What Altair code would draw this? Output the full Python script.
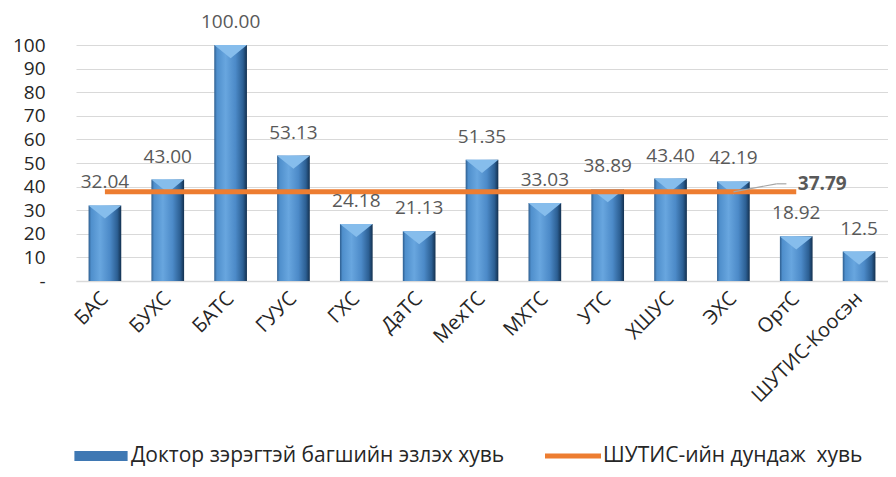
import altair as alt
import pandas as pd

FONT = "Open Sans"

categories = ["БАС", "БУХС", "БАТС", "ГУУС", "ГХС", "ДаТС", "МехТС", "МХТС",
              "УТС", "ХШУС", "ЭХС", "ОртС", "ШУТИС-Коосэн"]
values = [32.04, 43.00, 100.00, 53.13, 24.18, 21.13, 51.35, 33.03,
          38.89, 43.40, 42.19, 18.92, 12.5]
value_labels = ["32.04", "43.00", "100.00", "53.13", "24.18", "21.13", "51.35",
                "33.03", "38.89", "43.40", "42.19", "18.92", "12.5"]
average = 37.79
average_label = "37.79"
line_categories = categories[:12]
series_names = ["Доктор зэрэгтэй багшийн эзлэх хувь", "ШУТИС-ийн дундаж\u00a0 хувь"]
series_colors = ["#3f78b3", "#ED7D31"]
y_ticks = [0, 10, 20, 30, 40, 50, 60, 70, 80, 90, 100]

bars_df = pd.DataFrame({"cat": categories, "val": values, "lab": value_labels})
line_df = pd.DataFrame({"cat": line_categories,
                        "val": [average] * len(line_categories)})
avg_df = pd.DataFrame({"cat": [categories[11]], "val": [average], "lab": [average_label]})
leader_df = pd.DataFrame({"cat": [categories[10]], "val": [average]})
legend_df = pd.DataFrame({"series": series_names})

x_enc = alt.X("cat:N",
              scale=alt.Scale(domain=categories, paddingInner=0.48, paddingOuter=0.2),
              axis=alt.Axis(title=None, labelAngle=-45, labelAlign="right",
                            labelBaseline="middle", labelFont=FONT, labelFontSize=20,
                            labelColor="#262626", labelPadding=14, ticks=False,
                            domainColor="#d9d9d9", domainWidth=1.5,
                            labelOverlap=False, labelLimit=300))
y_enc = alt.Y("val:Q", scale=alt.Scale(domain=[0, 100], nice=False),
              axis=alt.Axis(title=None, values=y_ticks,
                            labelExpr="datum.value === 0 ? '-' : datum.label",
                            gridColor="#d9d9d9", gridWidth=1, domain=False, ticks=False,
                            labelPadding=31, labelFont=FONT, labelFontSize=19,
                            labelColor="#262626"))

bar_fill = alt.Gradient(
    gradient="linear", x1=0, x2=1, y1=0, y2=0,
    stops=[alt.GradientStop(color="#2d5d8e", offset=0),
           alt.GradientStop(color="#4f8fcc", offset=0.08),
           alt.GradientStop(color="#68a6df", offset=0.35),
           alt.GradientStop(color="#4c8ac8", offset=0.65),
           alt.GradientStop(color="#2c5f93", offset=0.88),
           alt.GradientStop(color="#13304f", offset=1)])

series_color = alt.Scale(domain=series_names, range=series_colors)
series_shape = alt.Scale(domain=series_names,
                         range=["M-0.95,-0.18H0.95V0.18H-0.95Z", "M-1,-0.09H1V0.09H-1Z"])
legend_def = alt.Legend(orient="none", legendX=-3, legendY=383, direction="horizontal",
                        title=None, padding=0, labelFont=FONT, labelFontSize=21,
                        labelColor="#262626", symbolSize=3136, labelOffset=2,
                        labelLimit=600, columnPadding=40, symbolOpacity=1,
                        symbolStrokeWidth=0)

bars = alt.Chart(bars_df).mark_bar(color=bar_fill).encode(x=x_enc, y=y_enc)

bevel = alt.Chart(bars_df).mark_point(
    shape="M-1,-1L1,-1L0,-0.2Z", size=1070, filled=True, color="#86bdec",
    opacity=1, strokeWidth=0, yOffset=16.4
).encode(x=x_enc, y=y_enc)

value_text = alt.Chart(bars_df).mark_text(
    font=FONT, fontSize=19, color="#595959", baseline="middle", dy=-23
).encode(x=x_enc, y=y_enc, text="lab:N")

line = alt.Chart(line_df).mark_line(strokeWidth=5, strokeCap="butt",
                                    color=series_colors[1]).encode(x=x_enc, y=y_enc)

legend_pts = alt.Chart(legend_df).mark_point(filled=True, opacity=0, strokeWidth=0).encode(
    x=alt.value(0), y=alt.value(0),
    color=alt.Color("series:N", scale=series_color, legend=legend_def),
    shape=alt.Shape("series:N", scale=series_shape, legend=legend_def)
)

leader1 = alt.Chart(leader_df).mark_rule(color="#a6a6a6", strokeWidth=1.2,
                                         x2Offset=43, y2Offset=-8).encode(
    x=x_enc, x2="cat:N", y=y_enc, y2="val:Q")
leader2 = alt.Chart(leader_df).mark_rule(color="#a6a6a6", strokeWidth=1.2,
                                         xOffset=43, x2Offset=53, yOffset=-8).encode(
    x=x_enc, x2="cat:N", y=y_enc)

avg_text = alt.Chart(avg_df).mark_text(
    font=FONT, fontSize=19, fontWeight="bold", color="#595959",
    baseline="middle", align="center", xOffset=26, dy=-8
).encode(x=x_enc, y=y_enc, text="lab:N")

chart = alt.layer(bars, bevel, line, legend_pts, leader1, leader2, value_text, avg_text).properties(
    width=812, height=236,
    autosize=alt.AutoSizeParams(type="none"),
    padding={"left": 68, "top": 37, "right": 0, "bottom": 188},
    background="white"
).configure_view(stroke=None)

chart.save("out.html", embed_options={"renderer": "svg", "actions": False})
